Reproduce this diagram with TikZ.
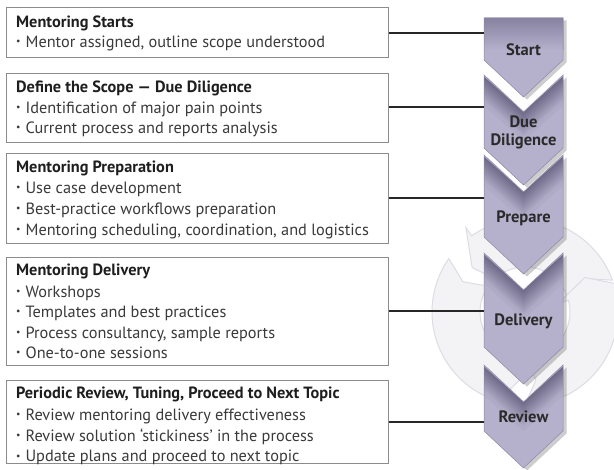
\documentclass[tikz,border=0pt]{standalone}
\usepackage{fontspec}
\setmainfont{PT Sans}
\usetikzlibrary{shadows,calc}
\definecolor{boxgray}{HTML}{8C8C8C}
\definecolor{titlec}{HTML}{1E1E1E}
\definecolor{itemc}{HTML}{3A3A3A}
\definecolor{labc}{HTML}{2A2A2A}
\definecolor{cD}{HTML}{6F6B89}
\definecolor{cL}{HTML}{B5B0CB}
\definecolor{chevedge}{HTML}{8D89A7}
\definecolor{ringfill}{HTML}{F3F3F5}
\definecolor{ringline}{HTML}{DCDCE4}
\newcommand\mybul{\raisebox{2.8pt}{\scalebox{0.6}{•}}\hspace{5pt}}
\newcommand\ringarrow[2]{%
  (#1:93) arc[start angle=#1, end angle=#2, radius=93] -- (#2:103) -- ({#2+15}:69) -- (#2:35) -- (#2:45)
  arc[start angle=#2, end angle=#1, radius=45] -- ({#1+9}:69) -- cycle}
% notched chevron: top corners y=#1, shoulders y=#2
\newcommand\chevpath[2]{(484,#1) -- (523.5,#1+37) -- (563,#1) -- (563,#2) -- (523.5,#2+37) -- (484,#2) -- cycle}
\newcommand\startpath{(484,18) -- (563,18) -- (563,60) -- (523.5,97) -- (484,60) -- cycle}
\newcommand\chevron[2]{%
  \path[chevsh] \chevpath{#1}{#2};
  \begin{scope}
    \clip \chevpath{#1}{#2};
    \fill[cL] (480,#1-2) rectangle (567,#2+40);
    \foreach \i in {0,...,11} {
      \pgfmathtruncatemacro\pc{100-\i*100/12}
      \fill[cD!\pc!cL] (480,#1+\i*2.2-2) -- (523.5,#1+37+\i*2.2) -- (567,#1+\i*2.2-2)
        -- (567,#1+\i*2.2+2.8) -- (523.5,#1+37+\i*2.2+4.8) -- (480,#1+\i*2.2+2.8) -- cycle;
    }
  \end{scope}
  \draw[chevedge, line width=0.5pt] \chevpath{#1}{#2};}
\tikzset{
  box/.style={draw=boxgray, line width=1.3pt, fill=white, anchor=north west, inner sep=0pt},
  ttl/.style={anchor=base west, inner sep=0pt, font=\fontsize{16.3}{19}\selectfont\bfseries, text=titlec},
  itm/.style={anchor=base west, inner sep=0pt, font=\fontsize{16.3}{19}\selectfont, text=itemc},
  conn/.style={line width=1.4pt, draw=black!85},
  clab/.style={anchor=base, inner sep=0pt, font=\fontsize{16.5}{19}\selectfont\bfseries, text=labc},
  chevsh/.style={drop shadow={opacity=0.28, shadow xshift=3.5pt, shadow yshift=-2.5pt, fill=black!70}},
  ring/.style={fill=ringfill, draw=ringline, line width=1pt},
}
\begin{document}
\begin{tikzpicture}[x=1pt,y=-1pt]
\useasboundingbox (0,0) rectangle (614,470);
\fill[white] (0,0) rectangle (614,470);
% background cycle
\begin{scope}
  \clip (0,0) rectangle (614,470);
  \begin{scope}[shift={(525,312)}, yscale=-1]
    \path[ring] \ringarrow{20}{125};
    \path[ring] \ringarrow{145}{250};
    \path[ring] \ringarrow{270}{375};
  \end{scope}
\end{scope}
% boxes
\node[box, minimum width=382pt, minimum height=50pt] (b1) at (6,7) {};
\node[box, minimum width=382pt, minimum height=69pt] (b2) at (6,73) {};
\node[box, minimum width=382pt, minimum height=90pt] (b3) at (6,153) {};
\node[box, minimum width=382pt, minimum height=108pt] (b4) at (6,257) {};
\node[box, minimum width=382pt, minimum height=83pt] (b5) at (6,380) {};
% box texts
\node[ttl] (t1) at (16,27.5) {Mentoring Starts};
\node[itm] (t1a) at (16,47.5) {\mybul Mentor assigned, outline scope understood};
\node[ttl] (t2) at (16,92.5) {Define the Scope — Due Diligence};
\node[itm] (t2a) at (16,113.5) {\mybul Identification of major pain points};
\node[itm] (t2b) at (16,133.5) {\mybul Current process and reports analysis};
\node[ttl] (t3) at (16,172.5) {Mentoring Preparation};
\node[itm] (t3a) at (16,193.5) {\mybul Use case development};
\node[itm] (t3b) at (16,214.5) {\mybul Best-practice workflows preparation};
\node[itm] (t3c) at (16,235.5) {\mybul Mentoring scheduling, coordination, and logistics};
\node[ttl] (t4) at (16,275.5) {Mentoring Delivery};
\node[itm] (t4a) at (16,297.5) {\mybul Workshops};
\node[itm] (t4b) at (16,317.5) {\mybul Templates and best practices};
\node[itm] (t4c) at (16,338.5) {\mybul Process consultancy, sample reports};
\node[itm] (t4d) at (16,358.5) {\mybul One-to-one sessions};
\node[ttl] (t5) at (16,398.5) {Periodic Review, Tuning, Proceed to Next Topic};
\node[itm] (t5a) at (16,420.5) {\mybul Review mentoring delivery effectiveness};
\node[itm] (t5b) at (16,441.5) {\mybul Review solution ‘stickiness’ in the process};
\node[itm] (t5c) at (16,462) {\mybul Update plans and proceed to next topic};
% chevrons
\chevron{365}{431}
\chevron{253}{347}
\chevron{155}{237}
\chevron{75}{148}
\path[chevsh] \startpath;
\begin{scope}
  \clip \startpath;
  \fill[top color=cD!70!cL, bottom color=cL] (480,16) rectangle (567,50);
  \fill[cL] (480,50) rectangle (567,100);
\end{scope}
\draw[chevedge, line width=0.5pt] \startpath;
% chevron labels
\node[clab] (l1) at (523.5,56) {Start};
\node[clab] (l2a) at (523.5,127.5) {Due};
\node[clab] (l2b) at (523.5,145.5) {Diligence};
\node[clab] (l3) at (523.5,223) {Prepare};
\node[clab] (l4) at (523.5,326) {Delivery};
\node[clab] (l5) at (523.5,423) {Review};
% connector ends
\coordinate (c1) at (484,33);
\coordinate (c2) at (484,107);
\coordinate (c3) at (484,198);
\coordinate (c4) at (484,311);
\coordinate (c5) at (484,422);
\draw[conn] (b1.east |- c1) -- (c1);
\draw[conn] (b2.east |- c2) -- (c2);
\draw[conn] (b3.east |- c3) -- (c3);
\draw[conn] (b4.east |- c4) -- (c4);
\draw[conn] (b5.east |- c5) -- (c5);
\end{tikzpicture}
\end{document}
